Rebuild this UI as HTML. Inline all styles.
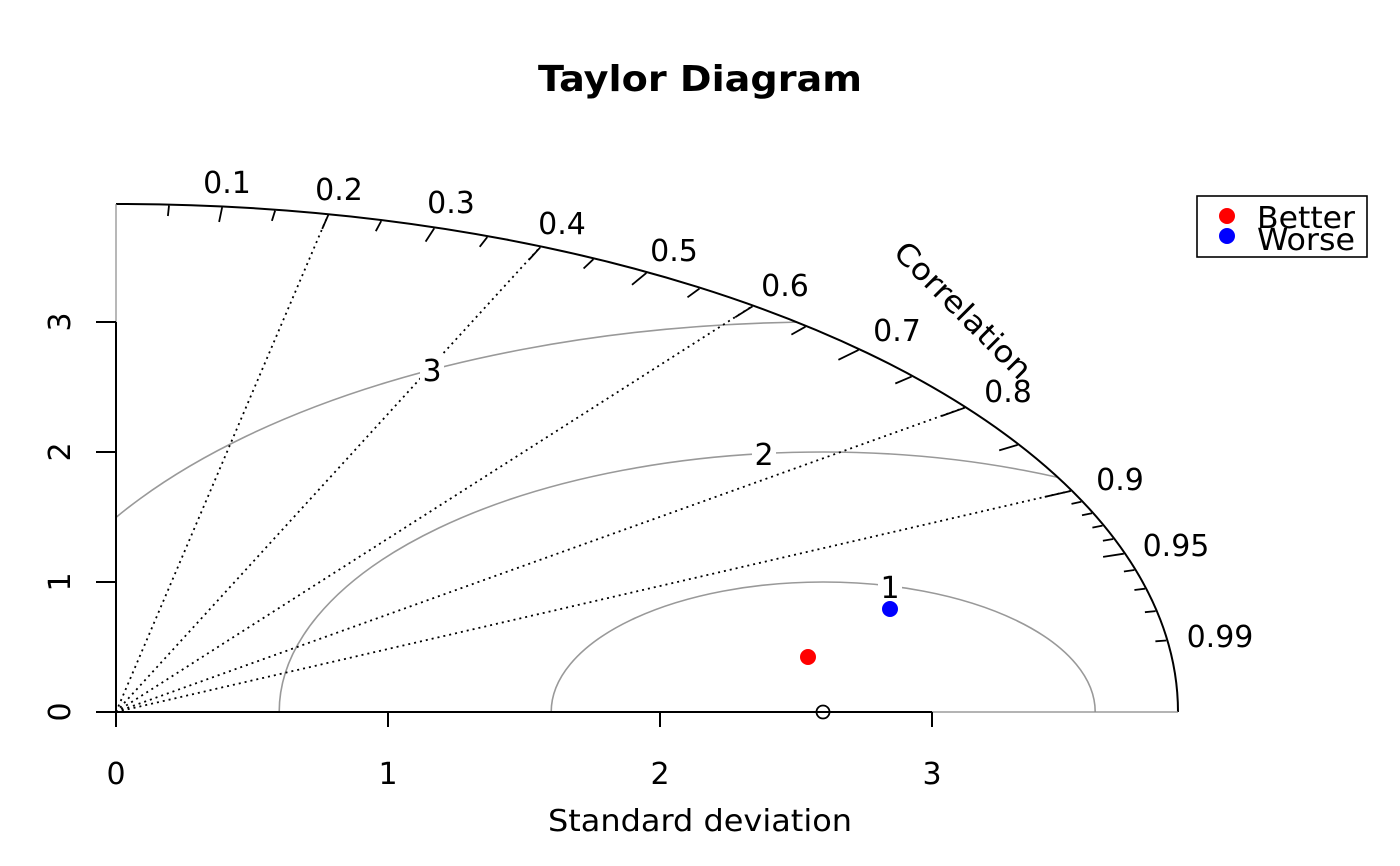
<!DOCTYPE html>
<html><head><meta charset="utf-8"><style>html,body{margin:0;padding:0;background:#fff}svg{display:block}</style></head>
<body>
<svg width="1400" height="866" viewBox="0 0 1400 866" xmlns="http://www.w3.org/2000/svg" font-family="'DejaVu Sans', 'Liberation Sans', sans-serif">
<defs><clipPath id="c"><path d="M116,712 L116,204 A1062,508 0 0 1 1178,712 Z"/></clipPath></defs>
<text x="700" y="91" font-size="36" font-weight="bold" text-anchor="middle" textLength="324" lengthAdjust="spacingAndGlyphs">Taylor Diagram</text>
<g clip-path="url(#c)" fill="none" stroke="#999" stroke-width="1.6">
<path d="M551.2,712 A272,130 0 0 1 1095.2,712"/>
<path d="M279.2,712 A544,260 0 0 1 1367.2,712"/>
<path d="M7.2,712 A816,390 0 0 1 1639.2,712"/>
</g>
<g stroke="#000" stroke-width="1.8" stroke-dasharray="2,4">
<line x1="116" y1="712" x2="328.4" y2="214.3"/>
<line x1="116" y1="712" x2="540.8" y2="246.4"/>
<line x1="116" y1="712" x2="753.2" y2="305.6"/>
<line x1="116" y1="712" x2="965.6" y2="407.2"/>
<line x1="116" y1="712" x2="1071.8" y2="490.6"/>
</g>
<g font-size="30" text-anchor="middle">
<rect x="878" y="572" width="24" height="30" fill="#fff"/><text x="890" y="598">1</text>
<rect x="752" y="438" width="24" height="30" fill="#fff"/><text x="764" y="465">2</text>
<rect x="420" y="354" width="24" height="30" fill="#fff"/><text x="432" y="381">3</text>
</g>
<path d="M116,204 A1062,508 0 0 1 1178,712" fill="none" stroke="#000" stroke-width="2"/>
<g stroke="#000" stroke-width="1.8">
<line x1="169.0" y1="205.6" x2="167.9" y2="216.0"/>
<line x1="222.1" y1="207.5" x2="219.1" y2="221.9"/>
<line x1="275.1" y1="210.7" x2="271.9" y2="220.9"/>
<line x1="328.2" y1="215.2" x2="322.2" y2="228.9"/>
<line x1="381.2" y1="221.1" x2="375.8" y2="231.2"/>
<line x1="434.2" y1="228.4" x2="425.6" y2="241.6"/>
<line x1="487.3" y1="237.1" x2="479.7" y2="246.8"/>
<line x1="540.3" y1="247.3" x2="528.8" y2="260.0"/>
<line x1="593.4" y1="259.2" x2="583.6" y2="268.5"/>
<line x1="646.4" y1="272.9" x2="632.0" y2="284.8"/>
<line x1="699.4" y1="288.6" x2="687.5" y2="297.3"/>
<line x1="752.5" y1="306.4" x2="735.2" y2="317.3"/>
<line x1="805.5" y1="326.7" x2="791.4" y2="334.6"/>
<line x1="858.6" y1="349.9" x2="838.4" y2="359.8"/>
<line x1="911.6" y1="376.6" x2="895.3" y2="383.5"/>
<line x1="964.6" y1="407.8" x2="941.6" y2="416.0"/>
<line x1="1017.7" y1="444.9" x2="999.2" y2="450.4"/>
<line x1="1070.7" y1="491.0" x2="1044.8" y2="496.9"/>
<line x1="1081.3" y1="501.8" x2="1071.5" y2="503.9"/>
<line x1="1092.0" y1="513.3" x2="1082.0" y2="515.3"/>
<line x1="1102.5" y1="525.6" x2="1092.4" y2="527.6"/>
<line x1="1113.2" y1="539.0" x2="1102.9" y2="540.8"/>
<line x1="1123.8" y1="553.7" x2="1103.1" y2="556.9"/>
<line x1="1134.4" y1="570.0" x2="1123.9" y2="571.5"/>
<line x1="1145.0" y1="588.7" x2="1134.4" y2="590.0"/>
<line x1="1155.6" y1="611.1" x2="1144.9" y2="612.2"/>
<line x1="1166.2" y1="640.5" x2="1155.4" y2="641.3"/>
</g>
<g font-size="30" text-anchor="middle">
<text x="227" y="193">0.1</text>
<text x="339" y="200">0.2</text>
<text x="451" y="213">0.3</text>
<text x="562" y="234">0.4</text>
<text x="674" y="261">0.5</text>
<text x="785" y="296">0.6</text>
<text x="897" y="341">0.7</text>
<text x="1008" y="402">0.8</text>
<text x="1120" y="490">0.9</text>
<text x="1176" y="556">0.95</text>
<text x="1220" y="647">0.99</text>
</g>
<text transform="translate(892,254) rotate(45)" font-size="30" textLength="180" lengthAdjust="spacingAndGlyphs">Correlation</text>
<line x1="116" y1="712" x2="932" y2="712" stroke="#000" stroke-width="2"/>
<line x1="932" y1="712" x2="1178" y2="712" stroke="#888" stroke-width="1.2"/>
<line x1="116" y1="712" x2="116" y2="322" stroke="#000" stroke-width="2"/>
<line x1="116" y1="322" x2="116" y2="204" stroke="#888" stroke-width="1.2"/>
<g stroke="#000" stroke-width="2">
<line x1="116" y1="712" x2="116" y2="727"/><line x1="388" y1="712" x2="388" y2="727"/><line x1="660" y1="712" x2="660" y2="727"/><line x1="932" y1="712" x2="932" y2="727"/>
<line x1="96" y1="712" x2="116" y2="712"/><line x1="96" y1="582" x2="116" y2="582"/><line x1="96" y1="452" x2="116" y2="452"/><line x1="96" y1="322" x2="116" y2="322"/>
</g>
<g font-size="30" text-anchor="middle">
<text x="116" y="784">0</text><text x="388" y="784">1</text><text x="660" y="784">2</text><text x="932" y="784">3</text>
<text transform="translate(70,712) rotate(-90)">0</text>
<text transform="translate(70,582) rotate(-90)">1</text>
<text transform="translate(70,452) rotate(-90)">2</text>
<text transform="translate(70,322) rotate(-90)">3</text>
<text x="700" y="831" textLength="304" lengthAdjust="spacingAndGlyphs">Standard deviation</text>
</g>
<circle cx="823" cy="712" r="6.5" fill="none" stroke="#000" stroke-width="1.8"/>
<circle cx="808" cy="657" r="8" fill="#f00"/>
<circle cx="890" cy="609" r="8" fill="#00f"/>
<rect x="1197" y="196" width="170" height="61" fill="#fff" stroke="#000" stroke-width="1.6"/>
<circle cx="1227" cy="216" r="8" fill="#f00"/>
<circle cx="1227" cy="236" r="8" fill="#00f"/>
<text x="1257" y="228" font-size="30" textLength="98" lengthAdjust="spacingAndGlyphs">Better</text>
<text x="1257" y="250" font-size="30" textLength="98" lengthAdjust="spacingAndGlyphs">Worse</text>
</svg>
</body></html>
